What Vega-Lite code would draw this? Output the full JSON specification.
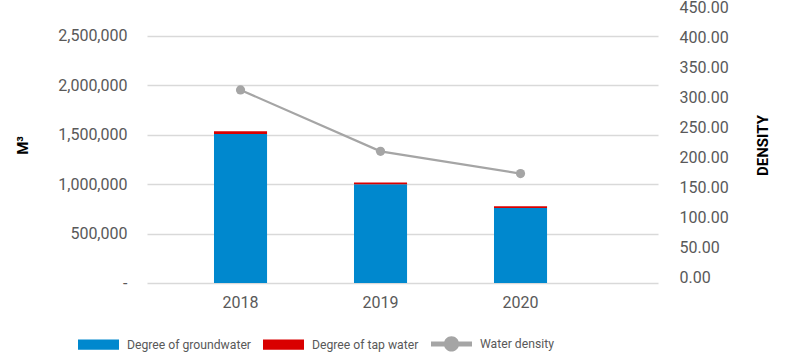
{
  "$schema": "https://vega.github.io/schema/vega-lite/v6.json",
  "autosize": "none",
  "width": 511,
  "height": 276,
  "padding": {"left": 147, "top": 7, "right": 128, "bottom": 70},
  "background": "white",
  "config": {
    "view": {"stroke": null},
    "font": "Roboto",
    "axis": {"domain": false, "ticks": false, "tickSize": 0, "labelFont": "Roboto", "labelColor": "#595959", "labelFontSize": 16, "titleFont": "Roboto", "titleColor": "#000000"}
  },
  "datasets": {
    "bars": [
      {"year": "2018", "type": "Degree of groundwater", "m3": 1505000},
      {"year": "2018", "type": "Degree of tap water", "m3": 30000},
      {"year": "2019", "type": "Degree of groundwater", "m3": 997000},
      {"year": "2019", "type": "Degree of tap water", "m3": 20000},
      {"year": "2020", "type": "Degree of groundwater", "m3": 757000},
      {"year": "2020", "type": "Degree of tap water", "m3": 20000}
    ],
    "density": [
      {"year": "2018", "density": 312},
      {"year": "2019", "density": 210},
      {"year": "2020", "density": 173}
    ]
  },
  "encoding": {
    "x": {
      "field": "year", "type": "ordinal",
      "scale": {"domain": ["2018", "2019", "2020"], "paddingInner": 0.621, "paddingOuter": 0.6355, "align": 0.3765},
      "axis": {"title": null, "labelAngle": 0, "labelPadding": 11, "grid": false, "labelColor": "#595959"}
    }
  },
  "layer": [
    {
      "data": {"name": "bars"},
      "mark": {"type": "bar"},
      "encoding": {
        "y": {
          "field": "m3", "type": "quantitative", "aggregate": "sum",
          "scale": {"domain": [0, 2790000], "nice": false, "zero": true},
          "axis": {
            "orient": "left", "title": "M³", "values": [0, 500000, 1000000, 1500000, 2000000, 2500000],
            "labelExpr": "datum.value === 0 ? '-' : format(datum.value, ',')",
            "labelPadding": 20, "grid": true, "gridColor": "#D9D9D9", "gridWidth": 1.5,
            "titleAngle": -90, "titleX": -124.5, "titleY": 138, "titleAlign": "center", "titleBaseline": "middle",
            "titleFontSize": 15, "titleFontWeight": "bold"
          }
        },
        "order": {"field": "type", "type": "nominal", "sort": "ascending"},
        "color": {
          "field": "type", "type": "nominal",
          "scale": {"domain": ["Degree of groundwater", "Degree of tap water", "Water density"], "range": ["#0088CE", "#D90000", "#A5A5A5"]},
          "legend": {
            "title": null, "orient": "none", "direction": "horizontal", "columns": 3,
            "legendX": -69, "legendY": 316, "padding": 0,
            "symbolType": "M-1,-0.25H1V0.25H-1Z", "symbolSize": 1681, "symbolStrokeWidth": 0, "symbolOpacity": 1,
            "labelFont": "Roboto", "labelFontSize": 12.2, "labelColor": "#595959", "labelOffset": 8, "columnPadding": 12,
            "encode": {
              "symbols": {
                "update": {
                  "shape": {"signal": "datum.value === 'Water density' ? 'M-1,-0.12H1V0.12H-1Z M0.37,0A0.37,0.37 0 1 1 -0.37,0A0.37,0.37 0 1 1 0.37,0Z' : 'M-1,-0.25H1V0.25H-1Z'"}
                }
              }
            }
          }
        }
      }
    },
    {
      "data": {"name": "density"},
      "layer": [
        {"mark": {"type": "line", "color": "#A5A5A5", "strokeWidth": 2.2}, "encoding": {}},
        {"mark": {"type": "point", "filled": true, "color": "#A5A5A5", "size": 85, "opacity": 1}, "encoding": {}}
      ],
      "encoding": {
        "y": {
          "field": "density", "type": "quantitative",
          "scale": {"domain": [-9, 450], "nice": false, "zero": false},
          "axis": {
            "orient": "right", "title": "DENSITY", "values": [0, 50, 100, 150, 200, 250, 300, 350, 400, 450],
            "format": ".2f", "labelPadding": 21, "grid": false,
            "titleAngle": -90, "titleX": 104.5, "titleY": 138, "titleAlign": "center", "titleBaseline": "middle",
            "titleFontSize": 15, "titleFontWeight": "bold"
          }
        }
      }
    }
  ],
  "resolve": {"scale": {"y": "independent"}}
}
